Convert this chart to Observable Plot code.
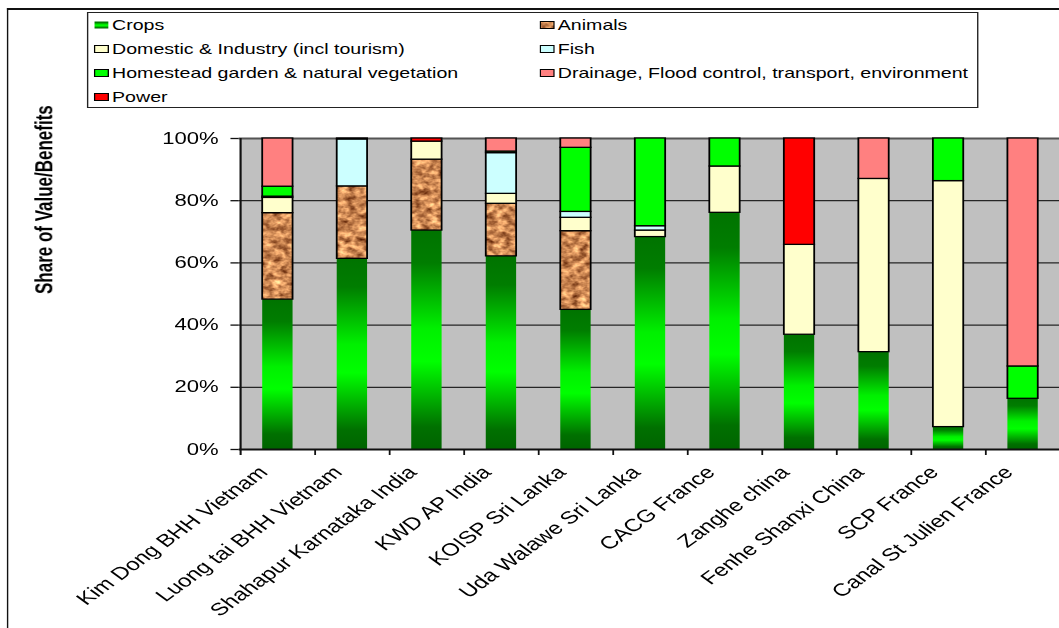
<!DOCTYPE html>
<html>
<head>
<meta charset="utf-8">
<script src="https://cdn.jsdelivr.net/npm/d3@7"></script>
<script src="https://cdn.jsdelivr.net/npm/@observablehq/plot@0.6"></script>
<style>
  html, body { margin: 0; padding: 0; overflow: hidden; background: #fff; width: 1059px; height: 628px; }
  #stage { position: absolute; left: 0; top: 0; width: 790px; height: 628px;
           transform: scaleX(1.38); transform-origin: 0 0;
           font-family: 'Liberation Sans', Arial, sans-serif; color: #000; }
  #frame { position: absolute; left: 5px; top: 8px; width: 1000px; height: 800px;
           border-top: 2px solid #111; border-left: 1.5px solid #111; }
  #legend { position: absolute; left: 63px; top: 12px; width: 646px; height: 96px;
            box-sizing: border-box; border: 1.2px solid #222; background: #fff; }
  .item { position: absolute; height: 18px; display: flex; align-items: center;
          font-size: 14.2px; white-space: nowrap; }
  .item svg { margin-right: 2.2px; flex: none; }
  #chart { position: absolute; left: 0; top: 112px; }
</style>
</head>
<body>
<svg width="0" height="0" style="position:absolute">
  <defs>
    <linearGradient id="cropsGrad" x1="0" y1="0" x2="0" y2="1">
      <stop offset="0" stop-color="#007300"/>
      <stop offset="0.15" stop-color="#007d00"/>
      <stop offset="0.45" stop-color="#00f000"/>
      <stop offset="0.6" stop-color="#00ff00"/>
      <stop offset="0.9" stop-color="#007000"/>
      <stop offset="1" stop-color="#006400"/>
    </linearGradient>
    <filter id="corkNoise" x="0" y="0" width="100%" height="100%" color-interpolation-filters="sRGB">
      <feTurbulence type="fractalNoise" baseFrequency="0.17" numOctaves="3" seed="7" stitchTiles="stitch"/>
      <feColorMatrix type="matrix" values="1.2 0 0 0 0.2  1.1 0 0 0 -0.02  0.85 0 0 0 -0.1  0 0 0 0 1"/>
    </filter>
    <pattern id="corkPat" patternUnits="userSpaceOnUse" width="90" height="90">
      <rect width="90" height="90" fill="#c08858"/>
      <rect width="90" height="90" filter="url(#corkNoise)"/>
    </pattern>
  </defs>
</svg>
<div id="stage">
  <div id="frame"></div>
  <div id="legend"></div>
  <div id="chart"></div>
</div>
<script>
// ---------- data ----------
const categories = [
  "Kim Dong BHH Vietnam", "Luong tai BHH Vietnam", "Shahapur Karnataka India",
  "KWD AP India", "KOISP Sri Lanka", "Uda Walawe Sri Lanka", "CACG France",
  "Zanghe china", "Fenhe Shanxi China", "SCP France", "Canal St Julien France"
];
const seriesNames = [
  "Crops", "Animals", "Domestic & Industry (incl tourism)", "Fish",
  "Homestead garden & natural vegetation",
  "Drainage, Flood control, transport, environment", "Power"
];
const crops     = [48.2, 61.3, 70.4, 62.1, 44.9, 68.3, 76.1, 36.9, 31.3,  7.2, 16.3];
const animals   = [27.8, 23.3, 22.8, 16.9, 25.3,  0,    0,    0,    0,    0,    0  ];
const domestic  = [ 4.9,  0,    5.8,  3.2,  4.3,  2.1, 14.9, 28.9, 55.7, 79.1,  0  ];
const fish      = [ 0.4, 15.1,  0,   13.1,  1.9,  1.4,  0,    0,    0,    0,    0  ];
const homestead = [ 3.2,  0,    0,    0.5, 20.6, 28.2,  9.0,  0,    0,   13.7, 10.4];
const drainage  = [15.5,  0.3,  0,    4.2,  3.0,  0,    0,    0,   13.0,  0,   73.3];
const power     = [ 0,    0,    1.0,  0,    0,    0,    0,   34.2,  0,    0,    0  ];
const seriesValues = [crops, animals, domestic, fish, homestead, drainage, power];
const yTicks = [0, 20, 40, 60, 80, 100];
const yTitle = "Share of Value/Benefits";

// ---------- styles ----------
const seriesFills = ["url(#cropsGrad)", "url(#corkPat)", "#ffffcc", "#ccffff", "#00ff00", "#ff8080", "#ff0000"];

const table = categories.flatMap((c, i) =>
  seriesNames.map((s, j) => ({category: c, series: s, value: seriesValues[j][i]}))
).filter(d => d.value > 0);

// ---------- legend ----------
const legend = document.getElementById("legend");
seriesNames.forEach((s, i) => {
  const row = Math.floor(i / 2), col = i % 2;
  const div = document.createElement("div");
  div.className = "item";
  div.style.left = (col === 0 ? 4 : 327) + "px";
  div.style.top = (3 + row * 24) + "px";
  const stroke = i === 0 ? "none" : "#000";
  div.innerHTML = `<svg width="11" height="8"><rect x="0.5" y="0.5" width="10" height="7" fill="${seriesFills[i]}" stroke="${stroke}" stroke-width="1"/></svg><span>${s.replace(/&/g, "&amp;")}</span>`;
  legend.appendChild(div);
});

// ---------- chart ----------
const W = 790, H = 516;
const marginLeft = 173, marginRight = 20, marginTop = 26, marginBottom = 179;
const step = (W - marginLeft - marginRight) / categories.length;

const chart = Plot.plot({
  width: W, height: H,
  marginLeft, marginRight, marginTop, marginBottom,
  style: {maxWidth: "none", background: "transparent", overflow: "visible",
          fontFamily: "'Liberation Sans', Arial, sans-serif", color: "#000"},
  x: {domain: categories, paddingInner: 0.59, paddingOuter: 0.295, axis: null},
  y: {domain: [0, 100], axis: null},
  color: {domain: seriesNames, range: seriesFills},
  opacity: {domain: [0, 1], range: [0, 1]},
  marks: [
    Plot.frame({fill: "#c0c0c0", stroke: null}),
    Plot.ruleY(yTicks.filter(v => v > 0 && v < 100), {stroke: "#262626", strokeWidth: 1.3}),
    Plot.ruleY([100], {stroke: "#555", strokeWidth: 2}),
    Plot.barY(table, {
      x: "category", y: "value", fill: "series", order: seriesNames,
      stroke: "#000", strokeWidth: 1.3,
      strokeOpacity: d => d.series === "Crops" ? 0 : 1
    }),
    Plot.ruleY([0], {stroke: "#111", strokeWidth: 2}),
    Plot.ruleX([categories[0]], {dx: -step / 2, y1: 100, y2: 0, insetBottom: -6, stroke: "#111", strokeWidth: 1.5}),
    Plot.ruleX(categories.slice(1), {dx: -step / 2, y1: 0, y2: 0, insetBottom: -6, stroke: "#111", strokeWidth: 1.3}),
    Plot.axisY(yTicks, {tickFormat: d => d + "%", tickSize: 6, tickPadding: 9, fontSize: 16,
                        stroke: "#111", strokeWidth: 1.3, label: null}),
    Plot.text(categories, {x: d => d, y: 0, text: d => d, dx: -10.5, dy: 20, rotate: -45,
                           textAnchor: "end", lineAnchor: "middle", fontSize: 17.5, fill: "#000"}),
    Plot.text([yTitle], {text: d => d, frameAnchor: "left", dx: -141, rotate: -90,
                         fontWeight: "bold", fontSize: 17, fill: "#000"})
  ]
});
document.getElementById("chart").appendChild(chart);
</script>
</body>
</html>
